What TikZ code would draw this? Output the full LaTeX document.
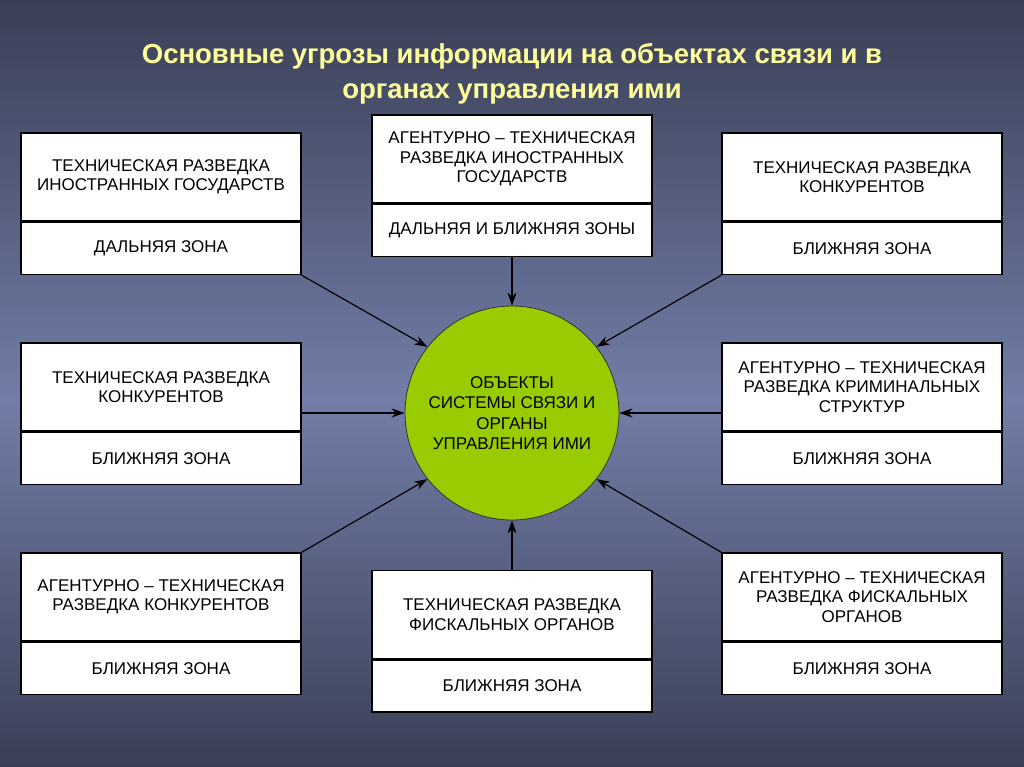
\documentclass[tikz,border=0pt]{standalone}
\usepackage{fontspec}
\setmainfont{Liberation Sans}
\usepackage{tikz}
\usetikzlibrary{arrows.meta}
\usetikzlibrary{positioning}

\definecolor{bgdark}{RGB}{58,63,86}
\definecolor{bglight}{RGB}{114,126,168}
\definecolor{titlecol}{RGB}{255,255,153}
\definecolor{objgreen}{RGB}{153,204,0}

\begin{document}
\begin{tikzpicture}[x=1pt,y=-1pt,>={Stealth[length=13pt,width=9pt]},
    threat node/.style={rectangle,draw,fill=white,line width=1.5pt,minimum width=280pt,minimum height=88pt,inner sep=0pt,align=center,font=\fontsize{17}{19.5}\selectfont},
    zone node/.style={threat node,minimum height=52pt},
    obj node/.style={circle,draw=black!80,fill=objgreen,line width=0.8pt,minimum size=214pt,inner sep=0pt,align=center,font=\fontsize{17}{20.3}\selectfont},
    title node/.style={align=center,text=titlecol,font=\bfseries\fontsize{27.5}{35}\selectfont}]

        % background
        \shade[top color=bgdark,bottom color=bglight] (0,0) rectangle (1024,400);
        \shade[top color=bglight,bottom color=bgdark] (0,400) rectangle (1024,767);
        \useasboundingbox (0,0) rectangle (1024,767);

        \node[title node] (title) at (512,74) {Основные угрозы информации на объектах связи и в\\органах управления ими};

        \node[obj node] (obj) at (512,413) {ОБЪЕКТЫ\\СИСТЕМЫ СВЯЗИ И\\ОРГАНЫ\\УПРАВЛЕНИЯ ИМИ};

        % top row
        \node[threat node] (tfar) at (161,177) {ТЕХНИЧЕСКАЯ РАЗВЕДКА\\ИНОСТРАННЫХ ГОСУДАРСТВ};
        \node[zone node] (tfarz) [below=0pt of tfar] {ДАЛЬНЯЯ ЗОНА};
        \node[threat node] (tagent) at (512,159) {АГЕНТУРНО -- ТЕХНИЧЕСКАЯ\\РАЗВЕДКА ИНОСТРАННЫХ\\ГОСУДАРСТВ};
        \node[zone node] (tagentz) [below=0pt of tagent] {ДАЛЬНЯЯ И БЛИЖНЯЯ ЗОНЫ};
        \node[threat node] (tkonk) at (862,177) {ТЕХНИЧЕСКАЯ РАЗВЕДКА\\КОНКУРЕНТОВ};
        \node[zone node] (tkonkz) [below=0pt of tkonk] {БЛИЖНЯЯ ЗОНА};

        % middle row
        \node[threat node] (mkonk) at (161,387) {ТЕХНИЧЕСКАЯ РАЗВЕДКА\\КОНКУРЕНТОВ};
        \node[zone node] (mkonkz) [below=0pt of mkonk] {БЛИЖНЯЯ ЗОНА};
        \node[threat node] (mkrim) at (862,387) {АГЕНТУРНО -- ТЕХНИЧЕСКАЯ\\РАЗВЕДКА КРИМИНАЛЬНЫХ\\СТРУКТУР};
        \node[zone node] (mkrimz) [below=0pt of mkrim] {БЛИЖНЯЯ ЗОНА};

        % bottom row
        \node[threat node] (bagent) at (161,597) {АГЕНТУРНО -- ТЕХНИЧЕСКАЯ\\РАЗВЕДКА КОНКУРЕНТОВ};
        \node[zone node] (bagentz) [below=0pt of bagent] {БЛИЖНЯЯ ЗОНА};
        \node[threat node] (bfisk) at (512,614.5) {ТЕХНИЧЕСКАЯ РАЗВЕДКА\\ФИСКАЛЬНЫХ ОРГАНОВ};
        \node[zone node] (bfiskz) [below=0pt of bfisk] {БЛИЖНЯЯ ЗОНА};
        \node[threat node] (bfiskag) at (862,597) {АГЕНТУРНО -- ТЕХНИЧЕСКАЯ\\РАЗВЕДКА ФИСКАЛЬНЫХ\\ОРГАНОВ};
        \node[zone node] (bfiskagz) [below=0pt of bfiskag] {БЛИЖНЯЯ ЗОНА};

        \path[->,line width=1.2pt]
        (tfarz.south east) edge (obj.142)
        (tagentz) edge (obj)
        (tkonkz.south west) edge (obj.38)
        (mkonk.east |- obj) edge (obj.west)
        (mkrim.west |- obj) edge (obj.east)
        (bagent.north east) edge (obj.218)
        (bfisk) edge (obj)
        (bfiskag.north west) edge (obj.322);

\end{tikzpicture}
\end{document}
